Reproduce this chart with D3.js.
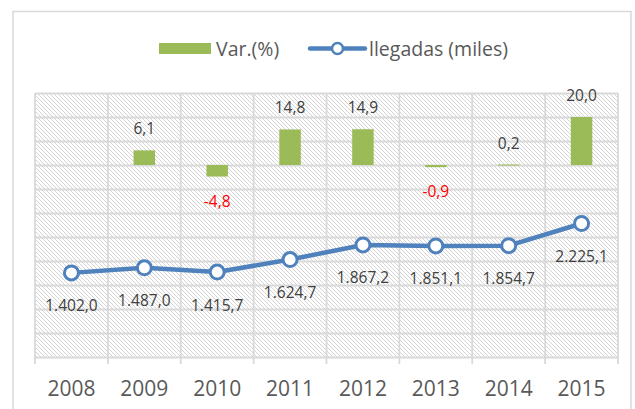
<!DOCTYPE html>
<html>
<head>
<meta charset="utf-8">
<script src="https://cdn.jsdelivr.net/npm/d3@7"></script>
<style>
  body { margin: 0; background: #fff; }
  svg { display: block; font-family: "Open Sans", sans-serif; }
</style>
</head>
<body>
<svg id="canvas" width="635" height="409"></svg>
<script>
let years = ['2008', '2009', '2010', '2011', '2012', '2013', '2014', '2015']
let variation = [null, 6.1, -4.8, 14.8, 14.9, -0.9, 0.2, 20.0]
let arrivals = [1402.0, 1487.0, 1415.7, 1624.7, 1867.2, 1851.1, 1854.7, 2225.1]
let barTicks = [-80, -70, -60, -50, -40, -30, -20, -10, 0, 10, 20, 30]

let plotLeft = 35
let plotRight = 618
let plotTop = 93
let plotBottom = 357

let green = '#9bbb59'
let blue = '#4f81bd'
let grid = '#d9d9d9'

let locale = d3.formatLocale({decimal: ',', thousands: '.', grouping: [3], currency: ['', ''], minus: '-'})
let fmtBig = locale.format(',.1f')
let fmtPct = locale.format('.1f')

let canvas = d3.select('#canvas')

// hatch fill of the plot area
let defs = canvas.append('defs')
let pattern = defs.append('pattern')
    .attr('id', 'hatch')
    .attr('patternUnits', 'userSpaceOnUse')
    .attr('width', 4)
    .attr('height', 4)
pattern.append('rect').attr('width', 4).attr('height', 4).attr('fill', '#fff')
pattern.append('path')
    .attr('d', 'M-1,-1 L5,5 M-1,3 L1,5 M3,-1 L5,1')
    .attr('stroke', '#cfcfcf')
    .attr('stroke-width', 0.9)

// outer chart border
canvas.append('rect')
    .attr('x', 13).attr('y', 11.5)
    .attr('width', 618).attr('height', 420)
    .attr('fill', 'none')
    .attr('stroke', grid)
    .attr('stroke-width', 1.5)

let x = d3.scaleBand().domain(years).range([plotLeft, plotRight]).padding(0)
let yBar = d3.scaleLinear().domain([-80, 30]).range([plotBottom, plotTop])
let yLine = d3.scaleLinear().domain([0, 4400]).range([plotBottom, plotTop])

canvas.append('rect')
    .attr('x', plotLeft).attr('y', plotTop)
    .attr('width', plotRight - plotLeft).attr('height', plotBottom - plotTop)
    .attr('fill', 'url(#hatch)')

// horizontal gridlines
let gy = canvas.append('g')
    .attr('transform', 'translate(' + plotLeft + ',0)')
    .call(d3.axisLeft(yBar).tickValues(barTicks).tickSize(-(plotRight - plotLeft)).tickFormat(''))
gy.select('.domain').remove()
gy.selectAll('line').attr('stroke', grid).attr('stroke-width', 1.8)

// vertical gridlines at category boundaries (plus ticks below the axis)
let bounds = years.map((d) => x(d)).concat([plotRight])
canvas.append('g').selectAll('line')
    .data(bounds)
    .enter()
    .append('line')
    .attr('x1', (d) => d).attr('x2', (d) => d)
    .attr('y1', plotTop).attr('y2', plotBottom + 7)
    .attr('stroke', grid)
    .attr('stroke-width', 1.8)

// x axis labels
let gx = canvas.append('g')
    .attr('transform', 'translate(0,' + plotBottom + ')')
    .call(d3.axisBottom(x).tickSize(0).tickPadding(0))
gx.select('.domain').remove()
gx.selectAll('text')
    .attr('y', 39)
    .attr('dy', 0)
    .attr('fill', '#595959')
    .style('font-size', '21px')
    .style('font-family', '"Open Sans", sans-serif')

// bars
let barW = 21.5
let barData = years.map((d, i) => ({year: d, v: variation[i]})).filter((d) => d.v !== null)
canvas.append('g').selectAll('rect')
    .data(barData)
    .enter()
    .append('rect')
    .attr('x', (d) => x(d.year) + x.bandwidth() / 2 - barW / 2)
    .attr('y', (d) => yBar(Math.max(0, d.v)))
    .attr('width', barW)
    .attr('height', (d) => Math.max(1, Math.abs(yBar(d.v) - yBar(0))))
    .attr('fill', green)

canvas.append('g').selectAll('text')
    .data(barData)
    .enter()
    .append('text')
    .attr('x', (d) => x(d.year) + x.bandwidth() / 2)
    .attr('y', (d) => d.v >= 0 ? yBar(d.v) - 16 : yBar(d.v) + 30)
    .attr('text-anchor', 'middle')
    .attr('fill', (d) => d.v < 0 ? '#ff0000' : '#404040')
    .style('font-size', '15.5px')
    .text((d) => fmtPct(d.v))

// line
let lineData = years.map((d, i) => ({year: d, v: arrivals[i]}))
let line = d3.line()
    .x((d) => x(d.year) + x.bandwidth() / 2)
    .y((d) => yLine(d.v))

canvas.append('path')
    .datum(lineData)
    .attr('d', line)
    .attr('fill', 'none')
    .attr('stroke', blue)
    .attr('stroke-width', 4.5)
    .attr('stroke-linejoin', 'round')

canvas.append('g').selectAll('circle')
    .data(lineData)
    .enter()
    .append('circle')
    .attr('cx', (d) => x(d.year) + x.bandwidth() / 2)
    .attr('cy', (d) => yLine(d.v))
    .attr('r', 7)
    .attr('fill', '#fff')
    .attr('stroke', blue)
    .attr('stroke-width', 3)

canvas.append('g').selectAll('text')
    .data(lineData)
    .enter()
    .append('text')
    .attr('x', (d) => x(d.year) + x.bandwidth() / 2)
    .attr('y', (d) => yLine(d.v) + 38.5)
    .attr('text-anchor', 'middle')
    .attr('fill', '#404040')
    .style('font-size', '15.5px')
    .text((d) => fmtBig(d.v))

// legend
let legend = canvas.append('g')
legend.append('rect')
    .attr('x', 159).attr('y', 43)
    .attr('width', 52).attr('height', 11)
    .attr('fill', green)
legend.append('text')
    .attr('x', 216).attr('y', 56)
    .attr('fill', '#595959')
    .style('font-size', '19.5px')
    .text('Var.(%)')
legend.append('line')
    .attr('x1', 310).attr('x2', 365)
    .attr('y1', 48.5).attr('y2', 48.5)
    .attr('stroke', blue)
    .attr('stroke-width', 4.5)
    .attr('stroke-linecap', 'round')
legend.append('circle')
    .attr('cx', 337.5).attr('cy', 48.5)
    .attr('r', 5.5)
    .attr('fill', '#fff')
    .attr('stroke', blue)
    .attr('stroke-width', 2.5)
legend.append('text')
    .attr('x', 369).attr('y', 56)
    .attr('fill', '#595959')
    .style('font-size', '19.5px')
    .text('llegadas (miles)')
</script>
</body>
</html>
